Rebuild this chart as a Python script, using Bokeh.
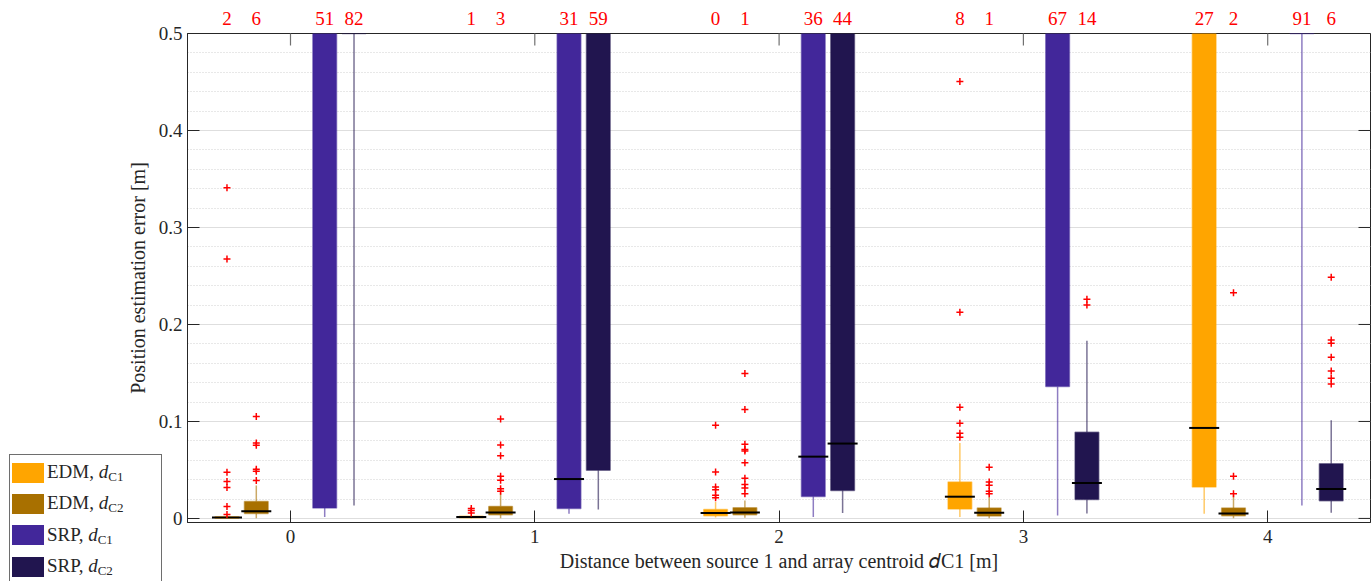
import math
from bokeh.plotting import figure
from bokeh.layouts import column
from bokeh.models import (ColumnDataSource, FixedTicker, LinearAxis, Range1d, Div,
                          PrintfTickFormatter)
from bokeh.embed import file_html
from bokeh.resources import INLINE

# ---------------- data ----------------
groups = [0, 1, 2, 3, 4]
series_methods = ["EDM", "EDM", "SRP", "SRP"]
series_dist = ["C1", "C2", "C1", "C2"]

edm1_q1 = [0.0003, 0.0008, 0.0028, 0.0096, 0.0324]
edm1_med = [0.0010, 0.0015, 0.0055, 0.0224, 0.0933]
edm1_q3 = [0.0018, 0.0022, 0.0093, 0.0375, 0.62]
edm1_wlo = [0.0, 0.0, 0.0010, 0.0014, 0.0048]
edm1_whi = [0.0040, 0.0040, 0.0170, 0.0778, 0.90]
edm1_out = [[0.341, 0.2675, 0.0475, 0.038, 0.032, 0.0124, 0.004],
            [0.0103, 0.0083, 0.0055],
            [0.096, 0.0478, 0.0324, 0.0296, 0.0238, 0.0214],
            [0.4504, 0.2125, 0.1147, 0.0981, 0.0878, 0.0837],
            []]
edm1_count = [2, 1, 0, 8, 27]

edm2_q1 = [0.0050, 0.0038, 0.0038, 0.0024, 0.0028]
edm2_med = [0.0075, 0.0062, 0.0062, 0.0059, 0.0052]
edm2_q3 = [0.0175, 0.0124, 0.0110, 0.0107, 0.0107]
edm2_wlo = [0.0003, 0.0003, 0.0007, 0.0003, 0.0003]
edm2_whi = [0.0340, 0.0260, 0.0186, 0.0220, 0.0240]
edm2_out = [[0.105, 0.0778, 0.0754, 0.0506, 0.0486, 0.0392],
            [0.1026, 0.0757, 0.0647, 0.0434, 0.0393, 0.0307, 0.0279],
            [0.1495, 0.1123, 0.0764, 0.071, 0.0696, 0.0575, 0.0413, 0.0351, 0.0313, 0.0255],
            [0.0527, 0.0375, 0.0341, 0.0279, 0.0255],
            [0.2328, 0.0434, 0.0255]]
edm2_count = [6, 3, 1, 1, 2]

srp1_q1 = [0.0107, 0.0103, 0.0227, 0.136, 0.70]
srp1_med = [0.70, 0.0406, 0.0637, 0.60, 0.90]
srp1_q3 = [0.95, 0.90, 0.90, 0.95, 0.98]
srp1_wlo = [0.0014, 0.0049, 0.0014, 0.0031, 0.0134]
srp1_whi = [1.0, 1.0, 1.0, 1.0, 1.0]
srp1_out = [[], [], [], [], []]
srp1_count = [51, 31, 36, 67, 91]

srp2_q1 = [0.65, 0.0496, 0.0289, 0.0196, 0.0183]
srp2_med = [0.90, 0.60, 0.0772, 0.0365, 0.0303]
srp2_q3 = [0.98, 0.95, 0.90, 0.0888, 0.0565]
srp2_wlo = [0.0134, 0.0093, 0.0055, 0.0052, 0.0059]
srp2_whi = [1.0, 1.0, 1.0, 0.1832, 0.1012]
srp2_out = [[], [], [], [0.2259, 0.22],
            [0.2487, 0.1839, 0.1805, 0.1663, 0.1519, 0.1446, 0.1387]]
srp2_count = [82, 59, 44, 14, 6]

y_ticks = [0, 0.1, 0.2, 0.3, 0.4, 0.5]
y_minor = [0.02, 0.04, 0.06, 0.08, 0.12, 0.14, 0.16, 0.18, 0.22, 0.24, 0.26, 0.28,
           0.32, 0.34, 0.36, 0.38, 0.42, 0.44, 0.46, 0.48]
x_ticks = [0, 1, 2, 3, 4]

# ---------------- style ----------------
offsets = [-0.26, -0.14, 0.14, 0.26]
colors = ["#FFA500", "#A87000", "#42279A", "#21154F"]
FONT = "Liberation Serif"
AX = "#262626"
X0, X1 = -0.4216, 4.4208
Y0, Y1 = -0.0042, 0.5

series = [
    (edm1_q1, edm1_med, edm1_q3, edm1_wlo, edm1_whi, edm1_out, edm1_count),
    (edm2_q1, edm2_med, edm2_q3, edm2_wlo, edm2_whi, edm2_out, edm2_count),
    (srp1_q1, srp1_med, srp1_q3, srp1_wlo, srp1_whi, srp1_out, srp1_count),
    (srp2_q1, srp2_med, srp2_q3, srp2_wlo, srp2_whi, srp2_out, srp2_count),
]

p = figure(frame_width=1183, frame_height=489, output_backend="svg", toolbar_location=None,
           x_range=Range1d(X0, X1), y_range=Range1d(Y0, Y1),
           min_border_left=187, min_border_right=2, min_border_top=33, min_border_bottom=59)
p.background_fill_color = "white"
p.border_fill_color = "white"
p.outline_line_color = AX
p.outline_line_width = 1

xt = FixedTicker(ticks=x_ticks)
yt = FixedTicker(ticks=y_ticks, minor_ticks=y_minor)

for ax in (p.xaxis[0], p.yaxis[0]):
    ax.axis_line_color = AX
    ax.major_tick_line_color = AX
    ax.major_tick_out = 0
    ax.major_tick_in = 12
    ax.minor_tick_in = 0
    ax.minor_tick_out = 0
    ax.major_label_text_font = FONT
    ax.major_label_text_font_size = "19px"
    ax.major_label_text_color = AX
    ax.axis_label_text_font = FONT
    ax.axis_label_text_font_size = "20px"
    ax.axis_label_text_font_style = "normal"
    ax.axis_label_text_color = AX
    ax.formatter = PrintfTickFormatter(format="%g")

p.xaxis.ticker = xt
p.xaxis.major_label_standoff = 7
p.xaxis.axis_label = "Distance between source 1 and array centroid 𝑑C1 [m]"
p.xaxis.axis_label_standoff = 4

p.yaxis.ticker = yt
p.yaxis.major_label_standoff = 5
p.yaxis.axis_label = "Position estimation error [m]"
p.yaxis.axis_label_standoff = 7

p.xgrid.visible = False
p.ygrid.ticker = yt
p.ygrid.grid_line_color = "#DEDEDE"
p.ygrid.grid_line_width = 1
p.ygrid.minor_grid_line_color = "#D0D0D0"
p.ygrid.minor_grid_line_dash = "1 2"
p.ygrid.minor_grid_line_width = 1

# inner tick marks on the top and right edges of the box
p.scatter(x=x_ticks, y=[Y1] * len(x_ticks), marker="dash", angle=math.pi / 2, size=24,
          line_color="#707070", line_width=1.2)
p.scatter(x=[X1] * len(y_ticks), y=y_ticks, marker="dash", size=24, line_color=AX, line_width=1)

count_x, count_txt = [], []
for i, (q1, med, q3, wlo, whi, outs, cnt) in enumerate(series):
    xs = [g + offsets[i] for g in groups]
    src = ColumnDataSource(dict(x=xs, q1=q1, med=med, q3=q3, wlo=wlo, whi=whi))
    c = colors[i]
    p.segment(x0="x", y0="q3", x1="x", y1="whi", source=src, line_color=c, line_alpha=0.6, line_width=1.5)
    p.segment(x0="x", y0="q1", x1="x", y1="wlo", source=src, line_color=c, line_alpha=0.6, line_width=1.5)
    p.vbar(x="x", width=0.097, bottom="q1", top="q3", source=src, fill_color=c,
           line_color=c, line_alpha=0.5, line_width=1.5)
    p.scatter(x="x", y="med", source=src, marker="dash", size=30, line_color="black", line_width=2)
    ox, oy = [], []
    for xg, vals in zip(xs, outs):
        for v in vals:
            ox.append(xg)
            oy.append(v)
    if ox:
        p.scatter(x=ox, y=oy, marker="cross", size=7, line_color="#FF0000", line_width=1.5)
    count_x.extend(xs)
    count_txt.extend([str(n) for n in cnt])

# counts of values above the visible range, shown as labels of a top axis
top_ax = LinearAxis(ticker=FixedTicker(ticks=count_x),
                    major_label_overrides={x: t for x, t in zip(count_x, count_txt)},
                    major_tick_in=0, major_tick_out=0, minor_tick_in=0, minor_tick_out=0,
                    axis_line_color=None, major_label_standoff=9,
                    major_label_text_color="#FF0000", major_label_text_font=FONT,
                    major_label_text_font_size="19px")
p.add_layout(top_ax, "above")

# legend box over the lower-left corner (as in the original, partly below the window)
rows = []
for i, c in enumerate(colors):
    rows.append(
        '<div style="display:flex;align-items:center;height:31.3px;white-space:nowrap;">'
        f'<span style="display:inline-block;width:32px;height:20px;background:{c};'
        'margin-left:2px;margin-right:3px;flex:none;"></span>'
        f'<span>{series_methods[i]},&nbsp;<i>d</i><sub style="font-size:13px;'
        f'vertical-align:-3px;">{series_dist[i]}</sub></span></div>'
    )
legend_html = (
    '<div style="box-sizing:border-box;width:153px;height:132px;border:1px solid #6E6E6E;'
    'border-bottom:none;background:white;padding-top:2px;overflow:hidden;'
    f'font-family:\'{FONT}\';font-size:19px;color:{AX};line-height:1;">'
    + "".join(rows) + '</div>'
)
legend_div = Div(text=legend_html, width=153, height=132,
                 styles={"position": "absolute", "left": "4px", "top": "449px", "z-index": "5"})

layout = column(p, legend_div)
layout.styles = {"position": "relative"}

open("out.html", "w").write(file_html(layout, INLINE))
